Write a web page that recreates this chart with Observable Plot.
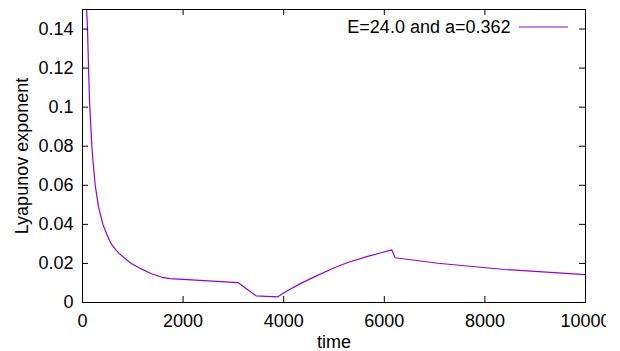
<!DOCTYPE html>
<html><head><meta charset="utf-8">
<script src="https://cdn.jsdelivr.net/npm/d3@7"></script>
<script src="https://cdn.jsdelivr.net/npm/@observablehq/plot@0.6"></script>
<style>
body{margin:0;background:#fff;}
#chart{width:620px;height:351px;overflow:hidden;background:#fff}
</style>
</head><body><div id="chart"></div>
<script>
const time = [70, 100, 120, 140, 186, 213, 253, 319, 405, 478, 571, 650, 737, 850, 970, 1169, 1368, 1580, 1733, 2000, 2500, 3090, 3450, 3880, 4100, 4343, 4608, 5006, 5273, 5671, 5900, 6150, 6215, 7065, 8392, 10000];
const lyap = [0.157, 0.14, 0.12, 0.103, 0.080, 0.071, 0.060, 0.0488, 0.040, 0.0352, 0.030, 0.0273, 0.0249, 0.0224, 0.0200, 0.0172, 0.0147, 0.0129, 0.0122, 0.0118, 0.0111, 0.0102, 0.0034, 0.0029, 0.0064, 0.0098, 0.0131, 0.0178, 0.0205, 0.0236, 0.0252, 0.0269, 0.0229, 0.0201, 0.0169, 0.0143];
const xTicks = [0, 2000, 4000, 6000, 8000, 10000];
const xTickLabels = ["0", "2000", "4000", "6000", "8000", "10000"];
const yTicks = [0, 0.02, 0.04, 0.06, 0.08, 0.1, 0.12, 0.14];
const yTickLabels = ["0", "0.02", "0.04", "0.06", "0.08", "0.1", "0.12", "0.14"];
const legendLabel = "E=24.0 and a=0.362";
const xLabel = "time";
const yLabel = "Lyapunov exponent";

const data = time.map((t, i) => ({t, v: lyap[i]}));
const W = 606, H = 351, mL = 82, mT = 9, mR = 21, mB = 49;
const fw = W - mL - mR, fh = H - mT - mB;
const color = "#9400d3";

const plot = Plot.plot({
  width: W, height: H,
  marginLeft: mL, marginTop: mT, marginRight: mR, marginBottom: mB,
  style: {fontFamily: "'Liberation Sans', Arial, sans-serif", fontSize: "18px", color: "#000", background: "#fff", overflow: "hidden"},
  x: {domain: [0, 10000]},
  y: {domain: [0, 0.15]},
  marks: [
    Plot.line(data, {x: "t", y: "v", stroke: color, strokeWidth: 1.2, clip: true}),
    Plot.frame({stroke: "#000", strokeWidth: 1}),
    Plot.ruleX(xTicks, {x: d => d, insetTop: fh - 6, stroke: "#000"}),
    Plot.ruleX(xTicks, {x: d => d, insetBottom: fh - 6, stroke: "#000"}),
    Plot.ruleY(yTicks, {y: d => d, insetRight: fw - 6, stroke: "#000"}),
    Plot.ruleY(yTicks, {y: d => d, insetLeft: fw - 6, stroke: "#000"}),
    Plot.axisX({ticks: xTicks, tickSize: 0, tickPadding: 12, tickFormat: d => xTickLabels[xTicks.indexOf(d)], label: null}),
    Plot.axisY({ticks: yTicks, tickSize: 0, tickPadding: 9, tickFormat: d => yTickLabels[yTicks.indexOf(d)], label: null}),
    Plot.text([xLabel], {text: d => d, frameAnchor: "bottom", textAnchor: "middle", lineAnchor: "bottom", dy: 45}),
    Plot.text([yLabel], {text: d => d, frameAnchor: "left", textAnchor: "middle", rotate: -90, lineAnchor: "bottom", dx: -55}),
    Plot.text([legendLabel], {text: d => d, frameAnchor: "top-right", textAnchor: "end", lineAnchor: "middle", dx: -75, dy: 18})
  ]
});

// legend sample line
d3.select(plot).append("line")
  .attr("x1", W - mR - 66).attr("x2", W - mR - 17)
  .attr("y1", mT + 18).attr("y2", mT + 18)
  .attr("stroke", color).attr("stroke-width", 1.2);

document.getElementById("chart").appendChild(plot);
</script>
</body></html>
